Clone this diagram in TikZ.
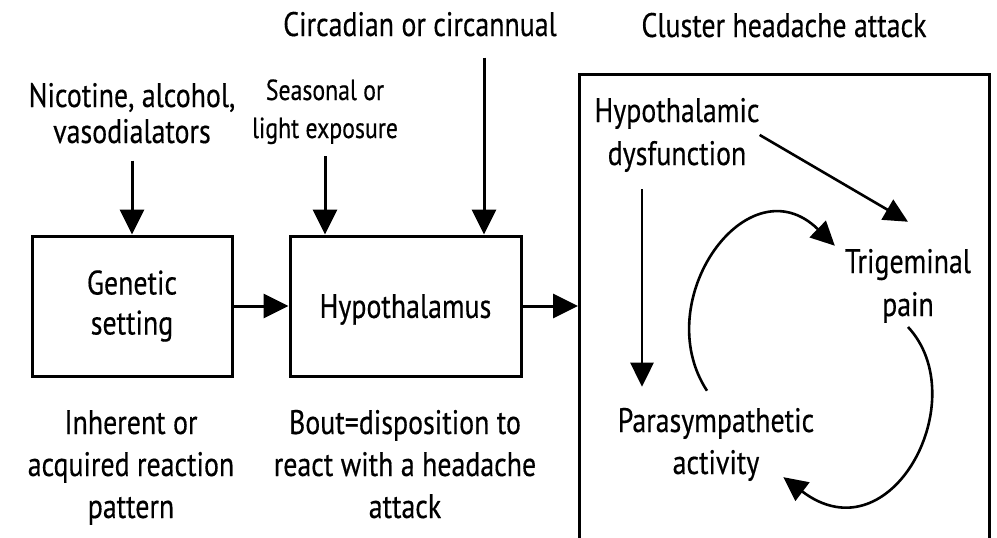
\documentclass[tikz,border=0pt]{standalone}
\usepackage{fontspec}
\setmainfont[FakeStretch=0.82,FakeBold=0.4]{PT Sans}
\usetikzlibrary{arrows.meta,calc}
\begin{document}
\begin{tikzpicture}[x=1pt,y=-1pt,
  lbl/.style={inner sep=0pt, align=center, anchor=base, text=black,
              font=\fontsize{34}{40}\selectfont},
  minor/.style={inner sep=0pt, align=center, anchor=base, text=black,
              font=\fontsize{29}{38}\selectfont},
  box/.style={draw, line width=3pt, inner sep=0pt, align=center, text=black,
              font=\fontsize{34}{40}\selectfont},
  arr/.style={line width=3pt, -{Triangle[length=25pt,width=24pt]}},
  link/.style={line width=2.6pt, -{Triangle[length=24pt,width=23pt]}},
]
\clip (0,0) rectangle (997,538);

% headings and inputs (a node's base is the baseline of its last line)
\node[lbl] (circ) at (420,36) {Circadian or circannual};
\node[lbl] (cha)  at (784,37) {Cluster headache attack};
\node[lbl, font=\fontsize{34}{36}\selectfont] (nic) at (132,143) {Nicotine, alcohol,\\vasodialators};
\node[minor] (seas) at (325,138) {Seasonal or\\light exposure};

% main chain
\node[box, minimum width=200pt, minimum height=140pt] (gen) at (132,306) {Genetic\\setting};
\node[box, minimum width=231pt, minimum height=140pt, text depth=0pt] (hyp) at (405.5,306) {Hypothalamus};
\node[draw, line width=3pt, inner sep=0pt, minimum width=410pt, minimum height=560pt,
      anchor=north west] (attack) at (578,73) {};

% captions under the boxes
\node[lbl, font=\fontsize{34}{42}\selectfont] (inh)  at (131,518) {Inherent or\\acquired reaction\\pattern};
\node[lbl, font=\fontsize{34}{42}\selectfont] (bout) at (405,518) {Bout=disposition to\\react with a headache\\attack};

% inside the attack box
\node[lbl, font=\fontsize{34}{43}\selectfont] (hd) at (677,165) {Hypothalamic\\dysfunction};
\node[lbl, font=\fontsize{34}{43}\selectfont] (tp) at (908,316) {Trigeminal\\pain};
\node[lbl, font=\fontsize{34}{42}\selectfont] (pa) at (716,474) {Parasympathetic\\activity};

% connectors
\draw[arr, shorten <=17pt] (nic.south) -- (nic.south |- gen.north);
\draw[arr, shorten <=12pt] (seas.south) -- (seas.south |- hyp.north);
\draw[arr, shorten <=21pt] ([xshift=64pt]circ.south) -- ([xshift=64pt]circ.south |- hyp.north);
\draw[arr] (gen) -- (hyp);
\draw[arr] (hyp) -- (hyp -| attack.west);

\draw[link, shorten <=17pt, shorten >=21pt] ([xshift=-35pt]hd.south) -- ([xshift=-35pt]hd.south |- pa.north);
\draw[link] (hd.east) -- ([yshift=27pt]tp.north);
\draw[link] ([xshift=-9pt,yshift=17pt]pa.north)
  .. controls +(-59,-90) and +(-87,-85) .. ([xshift=-10pt,yshift=3pt]tp.north west);
\draw[link] ([yshift=-4pt]tp.south)
  .. controls +(67,72) and +(108,82) .. ([xshift=-31pt,yshift=4pt]pa.south east);
\end{tikzpicture}
\end{document}
